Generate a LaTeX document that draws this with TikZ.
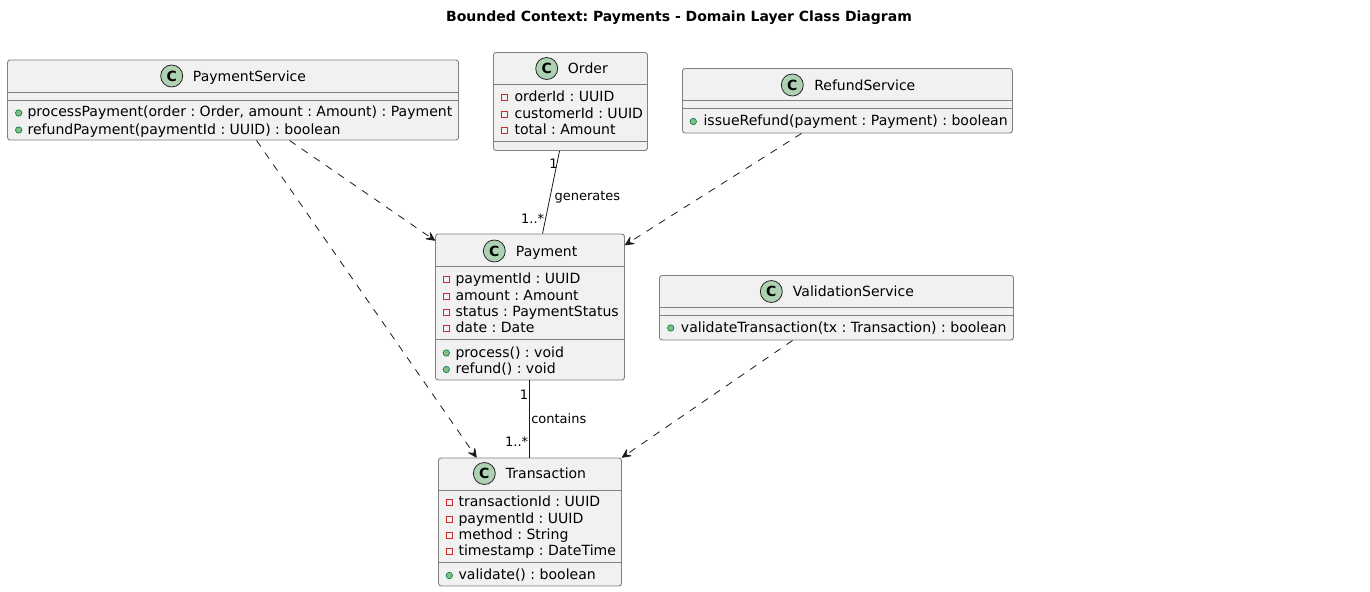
\documentclass[tikz,border=0pt]{standalone}
\usepackage{fontspec}
\setmainfont{DejaVu Sans}
\usetikzlibrary{arrows.meta,calc,fit}
\definecolor{boxfill}{HTML}{F1F1F1}
\definecolor{boxline}{HTML}{808080}
\definecolor{spot}{HTML}{ADD1B2}
\definecolor{privred}{HTML}{C82930}
\definecolor{pubfill}{HTML}{84BE84}
\definecolor{publine}{HTML}{038048}
\tikzset{
  umlbox/.style={draw=boxline,fill=boxfill,line width=0.7pt,rounded corners=2pt,inner sep=0pt},
  sepline/.style={draw=boxline,line width=0.7pt},
  spotc/.style={circle,draw=black!85,fill=spot,line width=0.6pt,minimum size=16.5pt,inner sep=0pt,font=\fontsize{10.5}{12}\selectfont\bfseries},
  cname/.style={anchor=base west,inner sep=0pt,font=\fontsize{10.5}{12}\selectfont},
  member/.style={anchor=base west,inner sep=0pt,font=\frenchspacing\fontsize{10.54}{12}\selectfont},
  priv/.style={draw=privred,line width=0.6pt,fill=none,minimum size=4.6pt,inner sep=0pt,rectangle},
  publ/.style={circle,draw=publine,fill=pubfill,line width=0.5pt,minimum size=4.8pt,inner sep=0pt},
  lbl/.style={inner sep=0pt,font=\fontsize{9.75}{12}\selectfont},
  assoc/.style={draw=black!90,line width=0.6pt},
  dep/.style={draw=black!90,line width=0.6pt,dash pattern=on 5.5pt off 5.5pt,-{Stealth[length=8pt,width=7.5pt,inset=3.5pt,round]}},
  title/.style={inner sep=0pt,font=\frenchspacing\fontsize{10.5}{12}\selectfont\bfseries}
}
\begin{document}
\begin{tikzpicture}[x=0.75pt,y=-0.75pt]
\useasboundingbox (0,0) rectangle (1370,592);
\node[title] (ttl) at (679,18) {Bounded Context: Payments - Domain Layer Class Diagram};

% PaymentService
\node[umlbox,fit={(7.5,60) (458.5,140)}] (ps) {};
\draw[sepline] (7.5,92.5) -- (458.5,92.5) (7.5,100) -- (458.5,100);
\node[spotc] (pss) at (171.7,76) {C};
\node[cname] (psn) at (192.7,81) {PaymentService};
\node[publ] (psi1) at (18.7,113) {};
\node[member] (psm1) at (27.3,117) {processPayment(order : Order, amount : Amount) : Payment};
\node[publ] (psi2) at (18.7,130) {};
\node[member] (psm2) at (27.3,134) {refundPayment(paymentId : UUID) : boolean};

% Order
\node[umlbox,fit={(493.5,52.5) (647.5,150.5)}] (or) {};
\draw[sepline] (493.5,84.5) -- (647.5,84.5) (493.5,141.5) -- (647.5,141.5);
\node[spotc] (ors) at (546.7,68.5) {C};
\node[cname] (orn) at (567.7,73.5) {Order};
\node[priv] (ori1) at (504.3,97) {};
\node[member] (orm1) at (514.3,101) {orderId : UUID};
\node[priv] (ori2) at (504.3,114) {};
\node[member] (orm2) at (514.3,118) {customerId : UUID};
\node[priv] (ori3) at (504.3,130) {};
\node[member] (orm3) at (514.3,134) {total : Amount};

% RefundService
\node[umlbox,fit={(682.5,68.5) (1012.5,133)}] (rs) {};
\draw[sepline] (682.5,100.5) -- (1012.5,100.5) (682.5,108) -- (1012.5,108);
\node[spotc] (rss) at (792.3,85) {C};
\node[cname] (rsn) at (814,90) {RefundService};
\node[publ] (rsi1) at (693.3,121.5) {};
\node[member] (rsm1) at (703.3,125.5) {issueRefund(payment : Payment) : boolean};

% Payment
\node[umlbox,fit={(435.5,234) (624.5,380)}] (pa) {};
\draw[sepline] (435.5,266.5) -- (624.5,266.5) (435.5,339.5) -- (624.5,339.5);
\node[spotc] (pas) at (494.3,251) {C};
\node[cname] (pan) at (515.7,256) {Payment};
\node[priv] (pai1) at (446.3,279.5) {};
\node[member] (pam1) at (455.3,283) {paymentId : UUID};
\node[priv] (pai2) at (446.3,296) {};
\node[member] (pam2) at (455.3,300) {amount : Amount};
\node[priv] (pai3) at (446.3,312) {};
\node[member] (pam3) at (455.3,316) {status : PaymentStatus};
\node[priv] (pai4) at (446.3,328.5) {};
\node[member] (pam4) at (455.3,332) {date : Date};
\node[publ] (pai5) at (446.3,353) {};
\node[member] (pam5) at (455.3,357) {process() : void};
\node[publ] (pai6) at (446.3,369.5) {};
\node[member] (pam6) at (455.3,373.5) {refund() : void};

% ValidationService
\node[umlbox,fit={(659.5,275.5) (1013.5,340)}] (vs) {};
\draw[sepline] (659.5,307.5) -- (1013.5,307.5) (659.5,315) -- (1013.5,315);
\node[spotc] (vss) at (771.3,291.5) {C};
\node[cname] (vsn) at (792.7,296.5) {ValidationService};
\node[publ] (vsi1) at (670.7,328) {};
\node[member] (vsm1) at (680.7,332) {validateTransaction(tx : Transaction) : boolean};

% Transaction
\node[umlbox,fit={(438.5,458) (621.5,586)}] (tr) {};
\draw[sepline] (438.5,490) -- (621.5,490) (438.5,562.5) -- (621.5,562.5);
\node[spotc] (trs) at (484.3,473.5) {C};
\node[cname] (trn) at (505.7,478.5) {Transaction};
\node[priv] (tri1) at (449.3,502.5) {};
\node[member] (trm1) at (458.3,506) {transactionId : UUID};
\node[priv] (tri2) at (449.3,519) {};
\node[member] (trm2) at (458.3,523) {paymentId : UUID};
\node[priv] (tri3) at (449.3,535) {};
\node[member] (trm3) at (458.3,539) {method : String};
\node[priv] (tri4) at (449.3,551.5) {};
\node[member] (trm4) at (458.3,555) {timestamp : DateTime};
\node[publ] (tri5) at (449.3,575.5) {};
\node[member] (trm5) at (458.3,579.5) {validate() : boolean};

% Connectors
\draw[assoc] ($(or.south west)+(66.5,0)$) -- ($(pa.north west)+(107.5,0)$);
\draw[assoc] ($(pa.south west)+(94,0)$) -- ($(tr.north west)+(91,0)$);
\draw[dep] ($(ps.south west)+(282.5,0)$) -- ($(pa.north west)+(0,7)$);
\draw[dep] ($(ps.south west)+(249.5,0)$) -- ($(tr.north west)+(38.5,0)$);
\draw[dep] ($(rs.south west)+(119.5,0)$) -- ($(pa.north east)+(0,11.5)$);
\draw[dep] ($(vs.south west)+(133.5,0)$) -- (tr.north east);

% Labels
\node[lbl,anchor=east] (l1) at (558,164) {1};
\node[lbl,anchor=east] (l2) at (544.5,218.5) {1..*};
\node[lbl,anchor=west] (l3) at (554.3,197) {generates};
\node[lbl,anchor=east] (l4) at (528.5,395) {1};
\node[lbl,anchor=east] (l5) at (528.5,441.5) {1..*};
\node[lbl,anchor=west] (l6) at (531,418.5) {contains};
\end{tikzpicture}
\end{document}
